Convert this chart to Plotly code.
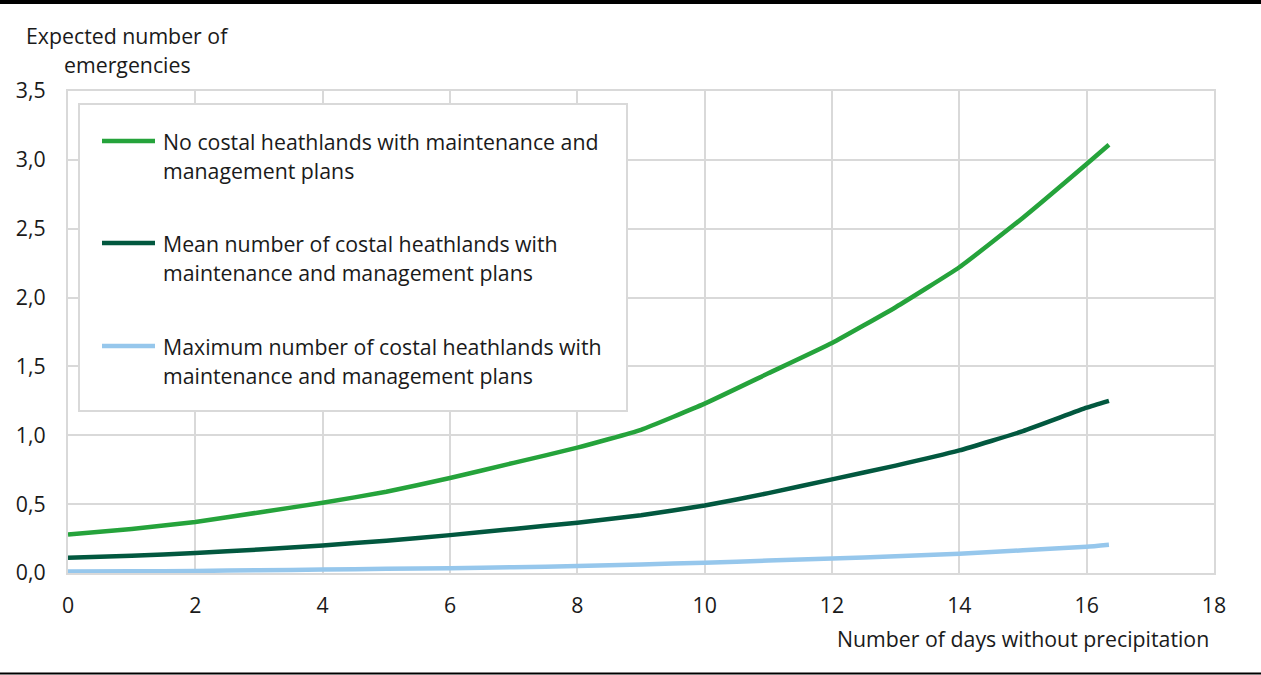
import plotly.graph_objects as go

days = [0, 1, 2, 3, 4, 5, 6, 7, 8, 9, 10, 11, 12, 13, 14, 15, 16, 16.35]
no_plans = [0.28, 0.32, 0.37, 0.44, 0.51, 0.59, 0.69, 0.80, 0.91, 1.04, 1.23, 1.45, 1.67, 1.93, 2.22, 2.58, 2.97, 3.11]
mean_plans = [0.11, 0.125, 0.145, 0.17, 0.20, 0.235, 0.275, 0.32, 0.365, 0.42, 0.49, 0.58, 0.68, 0.78, 0.89, 1.03, 1.20, 1.25]
max_plans = [0.01, 0.012, 0.015, 0.02, 0.025, 0.03, 0.035, 0.042, 0.05, 0.062, 0.075, 0.09, 0.105, 0.122, 0.14, 0.165, 0.19, 0.205]

legend_lines = [
    ["No costal heathlands with maintenance and", "management plans"],
    ["Mean number of costal heathlands with", "maintenance and management plans"],
    ["Maximum number of costal heathlands with", "maintenance and management plans"],
]
colors = ["#25a33b", "#02583f", "#96c7ec"]
x_ticks = [0, 2, 4, 6, 8, 10, 12, 14, 16, 18]
y_ticks = [0, 0.5, 1.0, 1.5, 2.0, 2.5, 3.0, 3.5]
y_tick_text = ["0,0", "0,5", "1,0", "1,5", "2,0", "2,5", "3,0", "3,5"]
y_title = ["Expected number of", "emergencies"]
x_title = "Number of days without precipitation"

FONT = "Open Sans"
FS = 21.3
TXT = "#1a1a1a"
GRID = "#d9d9d9"

# plot area in pixels
L, T, W, H = 68, 91, 1146, 482


def px(xp):
    return (xp - L) / W


def py(yp):
    return (T + H - yp) / H


fig = go.Figure()
for series, lines, color in zip([no_plans, mean_plans, max_plans], legend_lines, colors):
    fig.add_trace(go.Scatter(
        x=days, y=series, mode="lines", name=" ".join(lines), showlegend=False,
        line=dict(color=color, width=4.5, shape="spline", smoothing=0.4),
    ))

annotations = []
shapes = []

# legend box
shapes.append(dict(type="rect", xref="paper", yref="paper", x0=px(79), x1=px(627), y0=py(104), y1=py(411),
                   fillcolor="white", line=dict(color=GRID, width=2), layer="above"))
item_y = [141, 243, 346]
for lines, color, yy in zip(legend_lines, colors, item_y):
    shapes.append(dict(type="line", xref="paper", yref="paper", x0=px(102), x1=px(155), y0=py(yy), y1=py(yy),
                       line=dict(color=color, width=4.5), layer="above"))
    for k, line in enumerate(lines):
        annotations.append(dict(text=line, xref="paper", yref="paper", x=px(161), y=py(yy + 29 * k),
                                xanchor="left", yanchor="middle", showarrow=False,
                                font=dict(family=FONT, size=FS, color=TXT)))

for k, line in enumerate(y_title):
    annotations.append(dict(text=line, xref="paper", yref="paper", x=px(127), y=py(36 + 29 * k),
                            xanchor="center", yanchor="middle", showarrow=False,
                            font=dict(family=FONT, size=FS, color=TXT)))
annotations.append(dict(text=x_title, xref="paper", yref="paper", x=px(1211), y=py(638),
                        xanchor="right", yanchor="middle", showarrow=False,
                        font=dict(family=FONT, size=FS, color=TXT)))

shapes.append(dict(type="line", xref="paper", yref="paper", x0=px(-10), x1=px(1271), y0=py(2), y1=py(2),
                   line=dict(color="black", width=4)))
shapes.append(dict(type="line", xref="paper", yref="paper", x0=px(-10), x1=px(1271), y0=py(673.5), y1=py(673.5),
                   line=dict(color="black", width=2)))

fig.update_layout(
    width=1261, height=675,
    margin=dict(l=L, r=1261 - L - W, t=T, b=675 - T - H),
    paper_bgcolor="white", plot_bgcolor="white",
    font=dict(family=FONT, size=FS, color=TXT),
    showlegend=False,
    xaxis=dict(
        range=[0, 18], tickvals=x_ticks, showgrid=True, gridcolor=GRID, gridwidth=2,
        showline=True, linecolor=GRID, linewidth=2, mirror=True, zeroline=False,
        ticks="", ticklabelstandoff=12, tickfont=dict(family=FONT, size=FS, color=TXT),
    ),
    yaxis=dict(
        range=[0, 3.5], tickvals=y_ticks, ticktext=y_tick_text, showgrid=True, gridcolor=GRID, gridwidth=2,
        showline=True, linecolor=GRID, linewidth=2, mirror=True, zeroline=False,
        ticks="", ticklabelstandoff=16, tickfont=dict(family=FONT, size=FS, color=TXT),
    ),
    annotations=annotations,
    shapes=shapes,
)

fig.write_html("out.html", config={"displayModeBar": False},
               post_script="document.body.style.margin='0';document.body.style.padding='0';")
